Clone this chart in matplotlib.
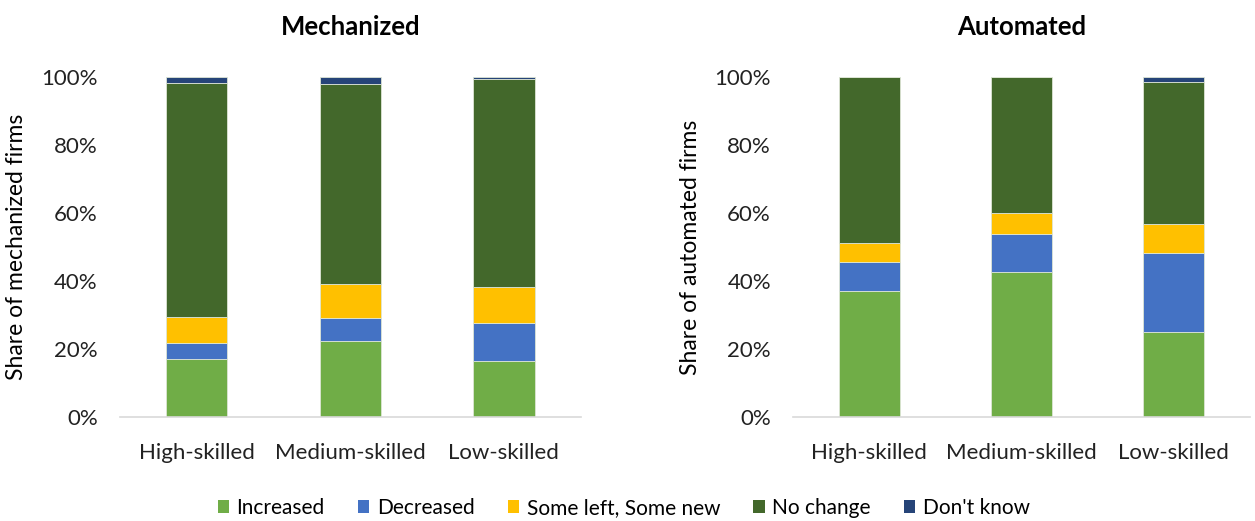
import numpy as np
import matplotlib.pyplot as plt
from matplotlib.patches import Patch

plt.rcParams['font.family'] = ['Lato', 'DejaVu Sans']

categories = ['High-skilled', 'Medium-skilled', 'Low-skilled']
series = ['Increased', 'Decreased', 'Some left, Some new', 'No change', "Don't know"]
colors = ['#70AD47', '#4472C4', '#FFC000', '#43682B', '#264478']

# shares in percent, per category
mech = {
    'Increased': [17.1, 22.3, 16.5],
    'Decreased': [4.5, 6.7, 11.2],
    'Some left, Some new': [7.8, 10.1, 10.6],
    'No change': [69.0, 58.8, 61.1],
    "Don't know": [1.6, 2.1, 0.6],
}
auto = {
    'Increased': [36.9, 42.5, 24.9],
    'Decreased': [8.6, 11.4, 23.2],
    'Some left, Some new': [5.8, 6.2, 8.6],
    'No change': [48.7, 39.9, 41.9],
    "Don't know": [0.0, 0.0, 1.4],
}

fig = plt.figure(figsize=(12.55, 5.21), dpi=100)
ax1 = fig.add_axes([0.0956, 0.2, 0.367, 0.652])
ax2 = fig.add_axes([0.632, 0.2, 0.364, 0.652])

def draw(ax, data, title, ylabel):
    x = np.arange(len(categories))
    bottom = np.zeros(len(categories))
    for s, c in zip(series, colors):
        vals = np.array(data[s]) / 100.
        ax.bar(x, vals, 0.4, bottom=bottom, color=c, edgecolor='#dde5d5', linewidth=0.6)
        bottom += vals
    ax.set_xlim(-0.5, 2.5)
    ax.set_ylim(0, 1)
    ax.set_yticks(np.arange(0, 1.01, 0.2))
    ax.set_yticklabels([f'{int(round(v*100))}%' for v in np.arange(0, 1.01, 0.2)], fontsize=16)
    ax.set_xticks(x)
    ax.set_xticklabels(categories, fontsize=16)
    ax.tick_params(length=0, colors='#222222')
    ax.tick_params(axis='x', pad=19)
    ax.tick_params(axis='y', pad=16)
    for sp in ['top', 'right', 'left']:
        ax.spines[sp].set_visible(False)
    ax.spines['bottom'].set_color('#d9d9d9')
    ax.spines['bottom'].set_linewidth(1.2)
    ax.set_title(title, fontsize=18.5, fontweight='bold', pad=30)
    ax.set_ylabel(ylabel, fontsize=16.5, labelpad=10)

draw(ax1, mech, 'Mechanized', 'Share of mechanized firms')
draw(ax2, auto, 'Automated', 'Share of automated firms')

handles = [Patch(facecolor=c, label=s) for s, c in zip(series, colors)]
fig.legend(handles=handles, loc='center', bbox_to_anchor=(0.497, 0.025), ncol=5,
           frameon=False, fontsize=15, handlelength=0.55, handleheight=0.55,
           handletextpad=0.35, columnspacing=1.6)

fig.savefig('out.png', dpi=100)
